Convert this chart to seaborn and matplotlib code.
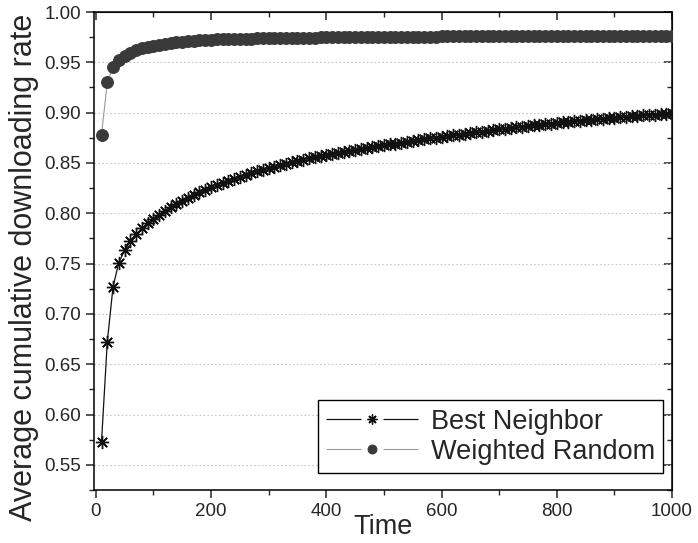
import numpy as np
import pandas as pd
import matplotlib
matplotlib.use("Agg")
import matplotlib.pyplot as plt
from matplotlib.ticker import MultipleLocator
import seaborn as sns

time = list(range(10, 1001, 10))

best_neighbor = [
    0.573, 0.672, 0.727, 0.751, 0.763, 0.772, 0.779, 0.785, 0.790, 0.794,
    0.798, 0.802, 0.806, 0.809, 0.812, 0.815, 0.818, 0.821, 0.823, 0.826,
    0.828, 0.830, 0.832, 0.834, 0.836, 0.838, 0.840, 0.842, 0.843, 0.845,
    0.846, 0.848, 0.849, 0.851, 0.852, 0.853, 0.855, 0.856, 0.857, 0.858,
    0.859, 0.860, 0.861, 0.862, 0.863, 0.864, 0.865, 0.866, 0.867, 0.868,
    0.869, 0.869, 0.870, 0.871, 0.872, 0.873, 0.874, 0.875, 0.875, 0.876,
    0.877, 0.878, 0.878, 0.879, 0.880, 0.881, 0.881, 0.882, 0.883, 0.884,
    0.884, 0.885, 0.886, 0.886, 0.887, 0.888, 0.888, 0.889, 0.889, 0.890,
    0.891, 0.891, 0.892, 0.892, 0.893, 0.893, 0.894, 0.894, 0.895, 0.895,
    0.896, 0.896, 0.897, 0.897, 0.898, 0.898, 0.898, 0.899, 0.899, 0.900,
]

weighted_random = [
    0.878, 0.930, 0.945, 0.952, 0.956, 0.959, 0.962, 0.964, 0.965, 0.966,
    0.967, 0.968, 0.969, 0.970, 0.970, 0.971, 0.971, 0.972, 0.972, 0.972,
    0.973, 0.973, 0.973, 0.973, 0.973, 0.973, 0.973, 0.974, 0.974, 0.974,
    0.974, 0.974, 0.974, 0.974, 0.974, 0.974, 0.974, 0.974, 0.975, 0.975,
    0.975, 0.975, 0.975, 0.975, 0.975, 0.975, 0.975, 0.975, 0.975, 0.975,
    0.975, 0.975, 0.975, 0.975, 0.975, 0.975, 0.975, 0.975, 0.975, 0.976,
    0.976, 0.976, 0.976, 0.976, 0.976, 0.976, 0.976, 0.976, 0.976, 0.976,
    0.976, 0.976, 0.976, 0.976, 0.976, 0.976, 0.976, 0.976, 0.976, 0.976,
    0.976, 0.976, 0.976, 0.976, 0.976, 0.976, 0.976, 0.976, 0.976, 0.976,
    0.976, 0.976, 0.976, 0.976, 0.976, 0.976, 0.976, 0.976, 0.976, 0.976,
]

series_names = ["Best Neighbor", "Weighted Random"]
x_label = "Time"
y_label = "Average cumulative downloading rate"

sns.set_style("ticks")
plt.rcParams["font.family"] = ["Liberation Sans", "DejaVu Sans"]

fig = plt.figure(figsize=(6.98, 5.43), dpi=100)
ax = fig.add_axes([0.1347, 0.0976, 0.8281, 0.8803])

df_bn = pd.DataFrame({"Time": time, "value": best_neighbor})
df_wr = pd.DataFrame({"Time": time, "value": weighted_random})

sns.lineplot(data=df_wr, x="Time", y="value", ax=ax, color="#9a9a9a",
             linewidth=0.8, marker="o", markersize=8.5, markerfacecolor="#3a3a3a",
             markeredgecolor="#3a3a3a", label=series_names[1], zorder=3)
sns.lineplot(data=df_bn, x="Time", y="value", ax=ax, color="#111111",
             linewidth=0.9, marker=(8, 2, 0), markersize=9.5, markeredgewidth=1.0,
             markeredgecolor="#111111", label=series_names[0], zorder=4)

ax.set_xlim(-3, 1000)
ax.set_ylim(0.525, 1.0)
ax.xaxis.set_major_locator(MultipleLocator(200))
ax.xaxis.set_minor_locator(MultipleLocator(100))
ax.yaxis.set_major_locator(MultipleLocator(0.05))
ax.yaxis.set_minor_locator(MultipleLocator(0.025))
ax.yaxis.set_major_formatter(matplotlib.ticker.FormatStrFormatter("%.2f"))

for y in np.arange(0.55, 0.96, 0.05):
    ax.axhline(y, color="#c8c8c8", linewidth=0.8, linestyle=(0, (1.5, 2)), zorder=1)

ax.tick_params(axis="both", which="major", labelsize=13.5, direction="out", length=6, width=1.1)
ax.tick_params(axis="both", which="minor", direction="out", length=3.5, width=1.0)
for spine in ax.spines.values():
    spine.set_linewidth(1.1)
    spine.set_color("black")

# top/right ticks pointing inwards
sec_top = ax.secondary_xaxis("top")
sec_top.xaxis.set_major_locator(MultipleLocator(200))
sec_top.xaxis.set_minor_locator(MultipleLocator(100))
sec_top.tick_params(which="major", direction="in", length=6, width=1.1)
sec_top.tick_params(which="minor", direction="in", length=3.5, width=1.0)
sec_top.set_xticklabels([])
sec_right = ax.secondary_yaxis("right")
sec_right.yaxis.set_major_locator(MultipleLocator(0.05))
sec_right.yaxis.set_minor_locator(MultipleLocator(0.025))
sec_right.tick_params(which="major", direction="in", length=6, width=1.1)
sec_right.tick_params(which="minor", direction="in", length=3.5, width=1.0)
sec_right.set_yticklabels([])

ax.set_xlabel(x_label, fontsize=19.5, va="center")
ax.xaxis.set_label_coords(0.5, -0.078)
ax.set_ylabel(y_label, fontsize=22, va="center")
ax.yaxis.set_label_coords(-0.122, 0.465)

handles, labels = ax.get_legend_handles_labels()
order = [labels.index(series_names[0]), labels.index(series_names[1])]
leg_fs = 19.5
leg_hl = 3.4
leg = ax.legend([handles[i] for i in order], [labels[i] for i in order],
                loc="lower right", bbox_to_anchor=(0.984, 0.036), fontsize=leg_fs,
                frameon=True, fancybox=False, edgecolor="black", framealpha=1,
                handlelength=leg_hl, handletextpad=0.45, borderpad=0.3, labelspacing=0.15,
                borderaxespad=0.0)
leg.get_frame().set_linewidth(1.0)
# Origin-style handles: short segments with a gap around the marker
L = leg_hl * leg_fs
for line in leg.get_lines():
    lw = line.get_linewidth()
    seg, gap = 0.38 * L, 0.24 * L
    line.set_linestyle((0, (seg / lw, gap / lw, seg / lw, 1000)))
    line.set_markersize(line.get_markersize() * 0.75)

fig.savefig("out.png", dpi=100)
